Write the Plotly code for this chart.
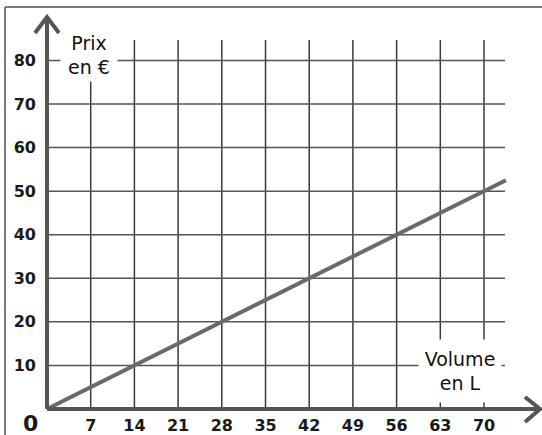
import plotly.graph_objects as go

# Data
volume = [0, 14, 28, 42, 56, 70, 73.5]
prix = [0, 10, 20, 30, 40, 50, 52.5]

x_ticks = [7, 14, 21, 28, 35, 42, 49, 56, 63, 70]
y_ticks = [10, 20, 30, 40, 50, 60, 70, 80]

W, H = 542, 435
ox, oy = 47, 409          # pixel position of origin
sx, sy = 6.243, 4.357     # pixels per unit
xr = [-ox / sx, (W - ox) / sx]
yr = [-(H - oy) / sy, oy / sy]

def px2x(p):
    return (p - ox) / sx

def px2y(p):
    return (oy - p) / sy

grid_top = px2y(40)
grid_right = px2x(505)

shapes = []
# vertical grid lines
for v in x_ticks:
    shapes.append(dict(type="line", xref="x", yref="y", x0=v, x1=v, y0=0, y1=grid_top,
                       line=dict(color="#3a3a3a", width=1.5), layer="below"))
# horizontal grid lines
for v in y_ticks:
    shapes.append(dict(type="line", xref="x", yref="y", x0=0, x1=grid_right, y0=v, y1=v,
                       line=dict(color="#555555", width=1.5), layer="below"))

# frame
shapes.append(dict(type="line", xref="x", yref="y", x0=px2x(5), x1=px2x(5), y0=px2y(7), y1=px2y(440),
                   line=dict(color="#7a7a7a", width=2)))
shapes.append(dict(type="line", xref="x", yref="y", x0=px2x(5), x1=px2x(545), y0=px2y(7), y1=px2y(7),
                   line=dict(color="#7a7a7a", width=2)))

axis_col = "#555555"
# y axis with arrow
shapes.append(dict(type="line", xref="x", yref="y", x0=0, x1=0, y0=0, y1=px2y(18),
                   line=dict(color=axis_col, width=4)))
shapes.append(dict(type="path", xref="x", yref="y",
                   path=f"M {px2x(35)} {px2y(33)} L 0 {px2y(17)} L {px2x(59)} {px2y(33)}",
                   line=dict(color=axis_col, width=4)))
# x axis with arrow
shapes.append(dict(type="line", xref="x", yref="y", x0=0, x1=px2x(539), y0=0, y1=0,
                   line=dict(color=axis_col, width=4)))
shapes.append(dict(type="path", xref="x", yref="y",
                   path=f"M {px2x(525)} {px2y(397)} L {px2x(540)} 0 L {px2x(525)} {px2y(422)}",
                   line=dict(color=axis_col, width=4)))

fig = go.Figure()
fig.add_trace(go.Scatter(x=volume, y=prix, mode="lines",
                         line=dict(color="#6a6a6a", width=4), showlegend=False,
                         hoverinfo="skip"))

tick_font = dict(family="DejaVu Sans", size=16, color="#1a1a1a", weight="bold")
label_font = dict(family="DejaVu Sans", size=19, color="#111111")

annotations = [
    dict(x=px2x(89), y=px2y(55), xref="x", yref="y", text="Prix<br>en €", showarrow=False,
         font=label_font, bgcolor="white", width=54, height=50, align="center"),
    dict(x=px2x(460), y=px2y(371), xref="x", yref="y", text="Volume<br>en L", showarrow=False,
         font=label_font, bgcolor="white", width=80, height=60, align="center"),
    dict(x=px2x(30), y=px2y(423), xref="x", yref="y", text="0", showarrow=False,
         font=dict(family="DejaVu Sans", size=22, color="#1a1a1a", weight="bold")),
]

fig.update_layout(
    width=W, height=H,
    margin=dict(l=0, r=0, t=0, b=0),
    paper_bgcolor="white", plot_bgcolor="white",
    xaxis=dict(range=xr, domain=[0, 1], anchor="free", position=(H - oy) / H,
               tickvals=x_ticks, ticktext=[str(v) for v in x_ticks],
               showgrid=False, zeroline=False, showline=False, ticks="",
               tickfont=tick_font, ticklabelstandoff=5, automargin=False, fixedrange=True),
    yaxis=dict(range=yr, domain=[0, 1], anchor="free", position=ox / W,
               tickvals=y_ticks, ticktext=[str(v) for v in y_ticks],
               showgrid=False, zeroline=False, showline=False, ticks="",
               tickfont=tick_font, ticklabelstandoff=11, automargin=False, fixedrange=True),
    shapes=shapes,
    annotations=annotations,
)

fig.write_html("out.html", config={"displayModeBar": False},
               post_script="document.body.style.margin='0px';")
